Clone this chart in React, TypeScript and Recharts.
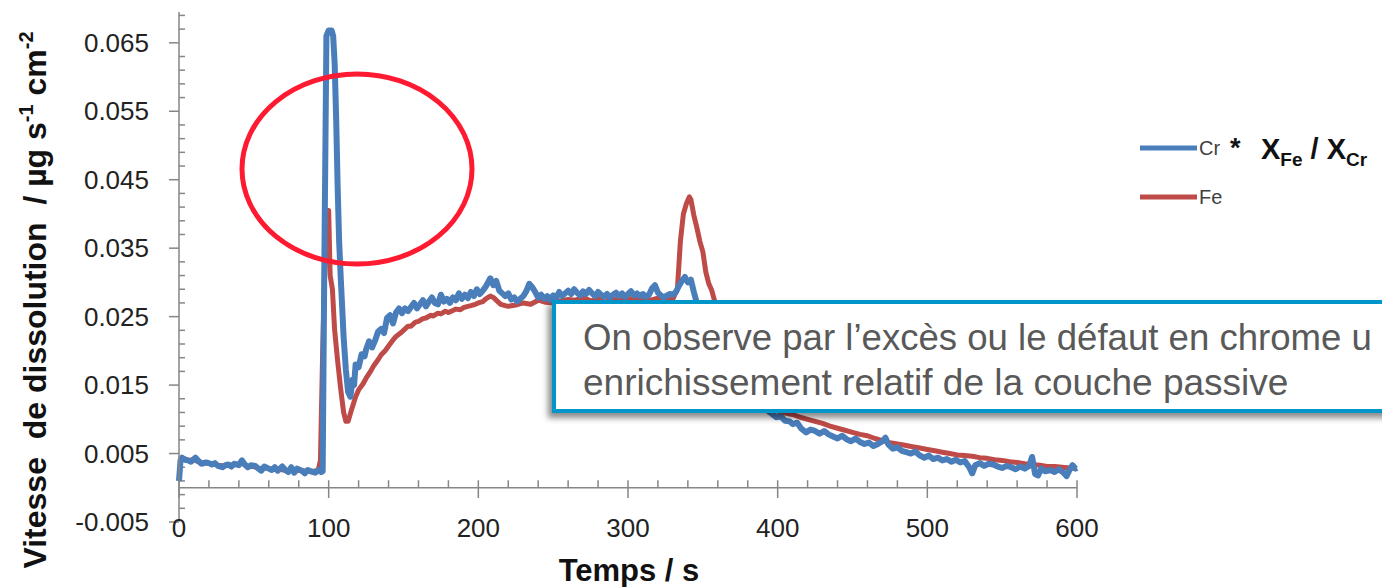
import React from 'react';
import { LineChart, Line, XAxis, YAxis, ReferenceLine } from 'recharts';

// ---------- data (time in s, dissolution rate in µg s-1 cm-2) ----------
const CR_TIME = [
  0, 1, 2, 4, 6, 8, 11, 13, 15, 18, 20, 22, 24, 26, 29, 31, 33, 35, 37, 40, 42, 44, 46, 48, 51, 53, 55, 57, 60, 62, 64, 66, 69, 71, 73, 75, 77, 79, 82, 84, 86, 88, 91, 93, 95, 96,
  97, 98.5, 100, 102, 103, 104, 105, 106, 107, 108, 109, 110, 111.5, 113, 114.5, 116, 117, 118, 120, 122, 124, 125, 127, 129, 131, 133, 135, 137, 139, 141, 143, 145, 147, 149,
  151, 153, 155, 157, 159, 161, 163, 165, 167, 169, 171, 173, 175, 177, 179, 181, 183, 185, 187, 189, 191, 193, 195, 197, 199, 201, 203, 205, 207, 208, 210, 212, 214, 216, 218,
  220, 222, 224, 226, 228, 230, 232, 234, 236, 238, 240, 242, 244, 246, 248, 250, 252, 254, 256, 258, 260, 262, 264, 266, 268, 270, 272, 274, 276, 278, 280, 282, 284, 286, 288,
  290, 292, 294, 296, 298, 300, 302, 304, 306, 308, 310, 312, 314, 316, 318, 320, 322, 324, 326, 328, 330, 332, 334, 336, 338, 340, 342, 344, 346, 348, 350, 355, 360, 365, 370,
  375, 380, 385, 390, 395, 399, 402, 405, 408, 410, 413, 416, 419, 422, 425, 428, 431, 434, 437, 440, 443, 446, 449, 452, 455, 458, 461, 464, 467, 470, 472, 474, 477, 480, 483,
  486, 489, 492, 495, 498, 501, 504, 507, 510, 513, 516, 519, 522, 525, 528, 530, 532, 535, 538, 541, 544, 547, 550, 553, 556, 559, 562, 565, 568, 570, 572, 574, 576, 579, 582,
  585, 588, 591, 593, 595, 597, 599, 600,
];
const CR_RATE = [
  0.0010, 0.0040, 0.0044, 0.0041, 0.0040, 0.0038, 0.0044, 0.0039, 0.0035, 0.0037, 0.0036, 0.0034, 0.0036, 0.0032, 0.0030, 0.0033, 0.0034, 0.0031, 0.0035, 0.0033, 0.0040, 0.0034, 0.0030, 0.0033, 0.0032, 0.0028, 0.0025, 0.0031, 0.0028, 0.0026, 0.0030, 0.0025, 0.0031, 0.0026, 0.0023, 0.0030, 0.0022, 0.0028, 0.0025, 0.0021, 0.0026, 0.0024, 0.0022, 0.0026, 0.0023, 0.0024,
  0.0300, 0.0660, 0.0668, 0.0668, 0.0660, 0.0620, 0.0540, 0.0440, 0.0360, 0.0310, 0.0265, 0.0220, 0.0172, 0.0140, 0.0133, 0.0158, 0.0150, 0.0180, 0.0176, 0.0195, 0.0192, 0.0202, 0.0214, 0.0205, 0.0215, 0.0228, 0.0232, 0.0226, 0.0248, 0.0252, 0.0240, 0.0256, 0.0262, 0.0255,
  0.0262, 0.0258, 0.0264, 0.0270, 0.0262, 0.0268, 0.0274, 0.0265, 0.0272, 0.0278, 0.0270, 0.0268, 0.0282, 0.0272, 0.0276, 0.0270, 0.0278, 0.0274, 0.0284, 0.0276, 0.0282, 0.0277, 0.0286, 0.0280, 0.0290, 0.0283, 0.0288, 0.0294, 0.0302, 0.0306, 0.0296, 0.0302, 0.0288, 0.0284, 0.0280,
  0.0284, 0.0275, 0.0278, 0.0272, 0.0276, 0.0280, 0.0287, 0.0298, 0.0293, 0.0286, 0.0278, 0.0282, 0.0276, 0.0280, 0.0274, 0.0281, 0.0277, 0.0286, 0.0280, 0.0284, 0.0288, 0.0283, 0.0290, 0.0285, 0.0281, 0.0287, 0.0283, 0.0289, 0.0284, 0.0280, 0.0286, 0.0282, 0.0279, 0.0283, 0.0278,
  0.0282, 0.0285, 0.0280, 0.0284, 0.0279, 0.0283, 0.0287, 0.0281, 0.0284, 0.0280, 0.0283, 0.0279, 0.0282, 0.0291, 0.0296, 0.0285, 0.0281, 0.0278, 0.0281, 0.0283, 0.0282, 0.0286, 0.0295, 0.0302, 0.0308, 0.0300, 0.0304, 0.0286, 0.0270, 0.0262, 0.0255, 0.0240, 0.0220, 0.0200, 0.0178,
  0.0160, 0.0145, 0.0130, 0.0118, 0.0110, 0.0103, 0.0104, 0.0098, 0.0097, 0.0093, 0.0095, 0.0086, 0.0081, 0.0085, 0.0083, 0.0079, 0.0083, 0.0078, 0.0075, 0.0072, 0.0076, 0.0071, 0.0068, 0.0072, 0.0067, 0.0064, 0.0066, 0.0061, 0.0064, 0.0068, 0.0073, 0.0063, 0.0057, 0.0059, 0.0054,
  0.0052, 0.0050, 0.0053, 0.0047, 0.0044, 0.0047, 0.0042, 0.0044, 0.0040, 0.0042, 0.0038, 0.0041, 0.0037, 0.0039, 0.0030, 0.0021, 0.0033, 0.0036, 0.0032, 0.0035, 0.0034, 0.0031, 0.0029, 0.0032, 0.0030, 0.0027, 0.0031, 0.0028, 0.0032, 0.0045, 0.0020, 0.0018, 0.0028, 0.0024, 0.0026,
  0.0023, 0.0027, 0.0022, 0.0017, 0.0026, 0.0033, 0.0028, 0.0029,
];

const FE_TIME = [
  0, 3, 6, 10, 14, 18, 22, 26, 30, 34, 38, 42, 46, 50, 54, 58, 62, 66, 70, 74, 78, 82, 86, 90, 93, 94.5, 96, 97.5, 99, 100, 101, 102.5, 104, 106, 108, 110, 111.5, 113, 115, 118,
  120, 123, 125, 128, 130, 133, 135, 138, 140, 143, 145, 148, 150, 153, 155, 158, 160, 163, 165, 168, 170, 173, 175, 178, 180, 183, 185, 188, 190, 193, 195, 198, 200, 203, 205,
  208, 210, 213, 215, 218, 220, 225, 230, 235, 240, 245, 250, 255, 260, 265, 270, 275, 280, 285, 290, 295, 300, 305, 310, 315, 320, 325, 330, 333, 335, 337, 339, 341, 342, 344,
  346, 348, 350, 352, 354, 356, 358, 360, 365, 370, 375, 380, 385, 390, 395, 400, 405, 410, 415, 420, 425, 430, 435, 440, 445, 450, 455, 460, 465, 470, 475, 480, 485, 490, 495,
  500, 505, 510, 515, 520, 525, 530, 535, 540, 545, 550, 555, 560, 565, 570, 575, 580, 585, 590, 595, 600,
];
const FE_RATE = [
  0.0040, 0.0043, 0.0040, 0.0041, 0.0037, 0.0036, 0.0035, 0.0033, 0.0032, 0.0033, 0.0034, 0.0036, 0.0031, 0.0031, 0.0028, 0.0029, 0.0027, 0.0027, 0.0026, 0.0025, 0.0026, 0.0025, 0.0024, 0.0024, 0.0025, 0.0040, 0.0200, 0.0330, 0.0385, 0.0405, 0.0310, 0.0290, 0.0230, 0.0185, 0.0145, 0.0110, 0.0097, 0.0097, 0.0112, 0.0133,
  0.0143, 0.0152, 0.0160, 0.0170, 0.0178, 0.0187, 0.0194, 0.0201, 0.0207, 0.0216, 0.0221, 0.0226, 0.0230, 0.0236, 0.0236, 0.0242, 0.0243, 0.0247, 0.0248, 0.0252, 0.0251, 0.0255, 0.0254, 0.0258, 0.0256, 0.0259, 0.0261, 0.0260, 0.0263, 0.0265, 0.0266, 0.0268, 0.0270, 0.0272, 0.0276,
  0.0280, 0.0278, 0.0272, 0.0268, 0.0266, 0.0265, 0.0267, 0.0270, 0.0268, 0.0274, 0.0271, 0.0270, 0.0273, 0.0275, 0.0274, 0.0278, 0.0273, 0.0276, 0.0279, 0.0274, 0.0277, 0.0275, 0.0278, 0.0276, 0.0274, 0.0277, 0.0273, 0.0276, 0.0290, 0.0360, 0.0400, 0.0415, 0.0425, 0.0421, 0.0398,
  0.0380, 0.0360, 0.0345, 0.0315, 0.0298, 0.0288, 0.0272, 0.0255, 0.0225, 0.0195, 0.0172, 0.0153, 0.0138, 0.0127, 0.0118, 0.0112, 0.0109, 0.0107, 0.0103, 0.0100, 0.0097, 0.0094, 0.0090, 0.0087, 0.0084, 0.0081, 0.0078, 0.0076, 0.0072, 0.0069, 0.0066, 0.0064, 0.0062, 0.0060, 0.0058,
  0.0056, 0.0054, 0.0052, 0.0050, 0.0048, 0.0047, 0.0046, 0.0044, 0.0043, 0.0041, 0.0040, 0.0038, 0.0037, 0.0035, 0.0034, 0.0033, 0.0031, 0.0031, 0.0030, 0.0029, 0.0028,
];

const X_TICKS = [0, 100, 200, 300, 400, 500, 600];
const X_MINOR_TICKS = [20, 40, 60, 80, 120, 140, 160, 180, 220, 240, 260, 280, 320, 340, 360, 380, 420, 440, 460, 480, 520, 540, 560, 580];
const Y_TICKS = [-0.005, 0.005, 0.015, 0.025, 0.035, 0.045, 0.055, 0.065];
const Y_MINOR_TICKS = [-0.003, -0.001, 0.001, 0.003, 0.007, 0.009, 0.011, 0.013, 0.017, 0.019, 0.021, 0.023, 0.027, 0.029, 0.031, 0.033, 0.037, 0.039, 0.041, 0.043, 0.047, 0.049, 0.051, 0.053, 0.057, 0.059, 0.061, 0.063, 0.067, 0.069];

const SERIES_CR = 'Cr';
const SERIES_FE = 'Fe';
const NOTE_LINE_1 = 'On observe par l’excès ou le défaut en chrome u';
const NOTE_LINE_2 = 'enrichissement relatif de la couche passive';

const crData = CR_TIME.map((t, i) => ({ t, v: CR_RATE[i] }));
const feData = FE_TIME.map((t, i) => ({ t, v: FE_RATE[i] }));

const AXIS = '#868686';
const BLUE = '#4a7ebb';
const RED = '#be4b48';
const TICK_FONT = "'Liberation Sans', Arial, sans-serif";
const TITLE_FONT = "'Liberation Sans', Arial, sans-serif";

export default function App() {
  return (
    <div style={{ position: 'fixed', left: 0, top: 0, width: 1382, height: 587, overflow: 'hidden', background: '#fff' }}>
      <LineChart width={1382} height={587} margin={{ top: 12, right: 305, bottom: 25, left: 99 }}>
        <XAxis
          type="number"
          dataKey="t"
          domain={[0, 600]}
          ticks={X_TICKS}
          axisLine={false}
          tickLine={false}
          tickSize={0}
          tickMargin={-3}
          height={40}
          tick={{ fontSize: 26, fill: '#222', fontFamily: TICK_FONT }}
        />
        <YAxis
          type="number"
          dataKey="v"
          domain={[-0.005, 0.0695]}
          ticks={Y_TICKS}
          allowDataOverflow
          width={80}
          tickSize={10}
          tickMargin={20}
          axisLine={{ stroke: AXIS, strokeWidth: 1.5 }}
          tickLine={{ stroke: AXIS, strokeWidth: 1.5 }}
          tickFormatter={(v: number) => v.toFixed(3)}
          tick={{ fontSize: 26, fill: '#222', fontFamily: TICK_FONT }}
        />
        <ReferenceLine y={0} stroke={AXIS} strokeWidth={1.5} />
        {X_TICKS.map((t) => (
          <ReferenceLine key={'xM' + t} segment={[{ x: t, y: -0.0015 }, { x: t, y: 0.0011 }]} stroke={AXIS} strokeWidth={1.5} />
        ))}
        {X_MINOR_TICKS.map((t) => (
          <ReferenceLine key={'xm' + t} segment={[{ x: t, y: 0 }, { x: t, y: 0.0011 }]} stroke={AXIS} strokeWidth={1.5} />
        ))}
        {Y_MINOR_TICKS.map((v) => (
          <ReferenceLine key={'ym' + v} segment={[{ x: 0, y: v }, { x: 4, y: v }]} stroke={AXIS} strokeWidth={1.5} />
        ))}
        <Line data={feData} dataKey="v" name={SERIES_FE} type="linear" stroke={RED} strokeWidth={5} dot={false} strokeLinejoin="round" isAnimationActive={false} />
        <Line data={crData} dataKey="v" name={SERIES_CR} type="linear" stroke={BLUE} strokeWidth={6} dot={false} strokeLinejoin="round" isAnimationActive={false} />
      </LineChart>

      <svg width={1382} height={587} style={{ position: 'absolute', left: 0, top: 0, pointerEvents: 'none' }}>
        {/* axis titles */}
        <text
          transform="rotate(-90)"
          x={-300}
          y={46}
          textAnchor="middle"
          fontFamily={TITLE_FONT}
          fontWeight="bold"
          fontSize={32}
          fill="#111"
          style={{ whiteSpace: 'pre' }}
        >
          {'Vitesse  de dissolution  / µg s'}
          <tspan dy={-13} fontSize={20}>-1</tspan>
          <tspan dy={13}>{' cm'}</tspan>
          <tspan dy={-13} fontSize={20}>-2</tspan>
        </text>
        <text x={629} y={581} textAnchor="middle" fontFamily={TITLE_FONT} fontWeight="bold" fontSize={31} fill="#111">
          Temps / s
        </text>

        {/* annotation ellipse */}
        <ellipse cx={357} cy={169} rx={115} ry={95} fill="none" stroke="#fe1a30" strokeWidth={5} />

        {/* legend */}
        <line x1={1140} y1={148} x2={1197} y2={148} stroke={BLUE} strokeWidth={5} />
        <text x={1199} y={155} fontFamily={TICK_FONT} fontSize={20} fill="#404040">{SERIES_CR}</text>
        <text x={1230} y={157} fontFamily={TITLE_FONT} fontWeight="bold" fontSize={27} fill="#111">*</text>
        <text x={1261} y={159} fontFamily={TITLE_FONT} fontWeight="bold" fontSize={29} fill="#111">
          X<tspan dy={7} fontSize={19}>Fe</tspan>
          <tspan dy={-7}>{' / X'}</tspan>
          <tspan dy={7} fontSize={19}>Cr</tspan>
        </text>
        <line x1={1140} y1={197} x2={1197} y2={197} stroke={RED} strokeWidth={5} />
        <text x={1199} y={204} fontFamily={TICK_FONT} fontSize={20} fill="#404040">{SERIES_FE}</text>
      </svg>

      {/* annotation text box */}
      <div
        style={{
          position: 'absolute',
          left: 552,
          top: 300,
          width: 900,
          height: 105,
          border: '4.5px solid #0096c9',
          background: '#fff',
          boxShadow: '-4px 5px 6px rgba(0,0,0,0.45)',
        }}
      >
        <svg width={820} height={105} style={{ position: 'absolute', left: 0, top: 0 }}>
          <text x={27} y={46} fontFamily={TICK_FONT} fontSize={36.6} fill="#595959">
            {NOTE_LINE_1}
          </text>
          <text x={27} y={91} fontFamily={TICK_FONT} fontSize={37} fill="#595959">
            {NOTE_LINE_2}
          </text>
        </svg>
      </div>
    </div>
  );
}
